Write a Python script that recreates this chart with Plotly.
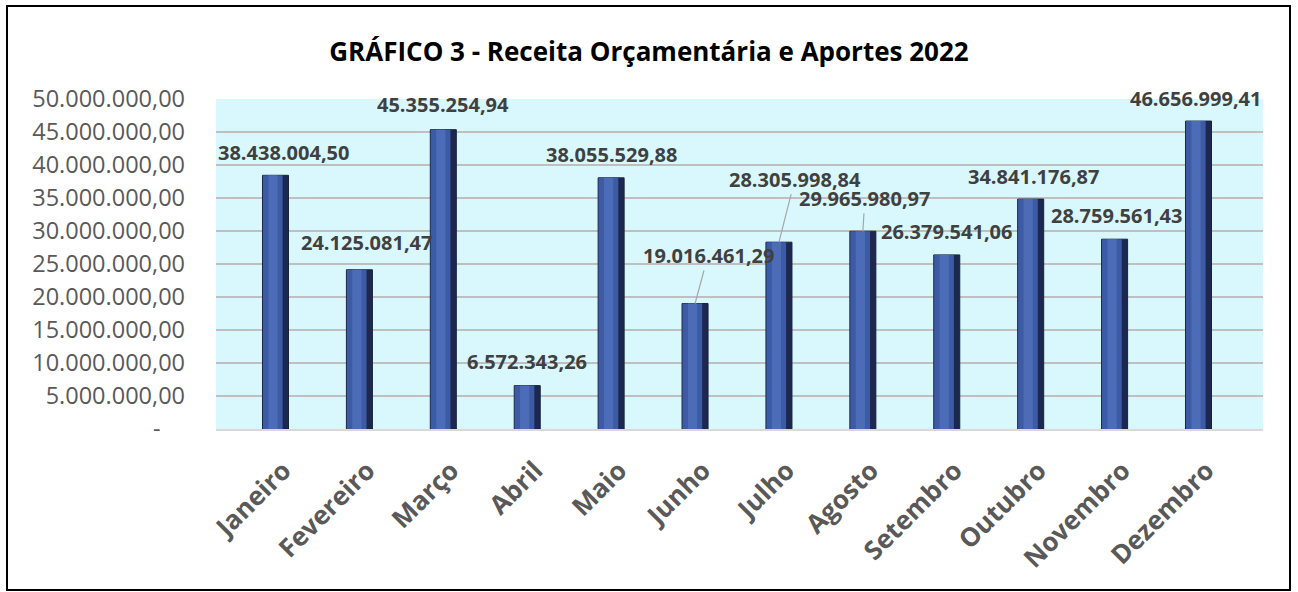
import plotly.graph_objects as go

months = ["Janeiro", "Fevereiro", "Março", "Abril", "Maio", "Junho", "Julho",
          "Agosto", "Setembro", "Outubro", "Novembro", "Dezembro"]
values = [38438004.50, 24125081.47, 45355254.94, 6572343.26, 38055529.88,
          19016461.29, 28305998.84, 29965980.97, 26379541.06, 34841176.87,
          28759561.43, 46656999.41]
y_ticks = [0, 5000000, 10000000, 15000000, 20000000, 25000000, 30000000,
           35000000, 40000000, 45000000, 50000000]

# label offsets in pixels (x, y up) relative to bar top, and whether a leader line is drawn
label_dx = [8, 7, 0, 0, 0, 13, 16, 2, 0, 3, 2, -3]
label_dy = [23, 27, 25, 24, 23, 48, 63, 33, 23, 23, 24, 23]
leader = [False, False, False, False, False, True, True, True, False, False, False, False]


def br(v):
    s = f"{v:,.2f}"
    return s.replace(",", "X").replace(".", ",").replace("X", ".")


tick_text = [("-\u00a0\u00a0\u00a0\u00a0" if t == 0 else br(t)) for t in y_ticks]

FONT = "Open Sans"

fig = go.Figure()
# cylinder-like shading: dark base, mid-tone, highlight
fig.add_trace(go.Bar(x=months, y=values, width=0.31, offset=-0.155,
                     marker=dict(color="#1C2850", line=dict(color="#17223F", width=1)),
                     hoverinfo="skip"))
fig.add_trace(go.Bar(x=months, y=values, width=0.235, offset=-0.15,
                     marker=dict(color="#3D5AA4", line=dict(width=0)), hoverinfo="skip"))
fig.add_trace(go.Bar(x=months, y=values, width=0.11, offset=-0.085,
                     marker=dict(color="#4D6CB8", line=dict(width=0)), hoverinfo="skip"))

annotations = []
for m, v, dx, dy, ld in zip(months, values, label_dx, label_dy, leader):
    if ld:
        annotations.append(dict(x=m, y=v, xref="x", yref="y", text=f"<b>{br(v)}</b>",
                                showarrow=True, arrowhead=0, arrowwidth=1.2,
                                arrowcolor="#A6A6A6", ax=dx, ay=-dy, standoff=0,
                                font=dict(family=FONT, size=20, color="#404040")))
    else:
        annotations.append(dict(x=m, y=v, xref="x", yref="y", text=f"<b>{br(v)}</b>",
                                showarrow=False, xanchor="center", yanchor="middle",
                                xshift=dx, yshift=dy,
                                font=dict(family=FONT, size=20, color="#404040")))

fig.update_layout(
    width=1298, height=592,
    barmode="overlay",
    showlegend=False,
    paper_bgcolor="white",
    plot_bgcolor="#D9F8FD",
    margin=dict(l=216, r=35, t=99, b=163),
    title=dict(text="<b>GRÁFICO 3 - Receita Orçamentária e Aportes 2022</b>",
               x=0.5, xref="container", xanchor="center",
               y=1 - 52 / 592, yref="container", yanchor="middle",
               font=dict(family=FONT, size=26, color="#000000")),
    annotations=annotations,
    shapes=[dict(type="rect", xref="paper", yref="paper",
                 x0=(7 - 216) / 1047, x1=(1290 - 216) / 1047,
                 y0=(429 - 590) / 330, y1=(429 - 6) / 330,
                 line=dict(color="black", width=2), fillcolor="rgba(0,0,0,0)", layer="below")],
    xaxis=dict(tickangle=-45, tickfont=dict(family=FONT, size=26, color="#595959", weight="bold"),
               showline=True, linecolor="#D9D9D9", linewidth=2, ticks="", showgrid=False,
               ticklabelstandoff=14, ticklabelshift=8),
    yaxis=dict(range=[0, 50000000], tickvals=y_ticks, ticktext=tick_text,
               tickfont=dict(family=FONT, size=23.5, color="#595959"),
               showgrid=True, gridcolor="#BFBFBF", gridwidth=2, zeroline=False,
               ticks="", ticklabelstandoff=30),
)

fig.write_html("out.html", config={"displayModeBar": False},
               post_script="document.body.style.margin='0';document.body.style.overflow='hidden';")
